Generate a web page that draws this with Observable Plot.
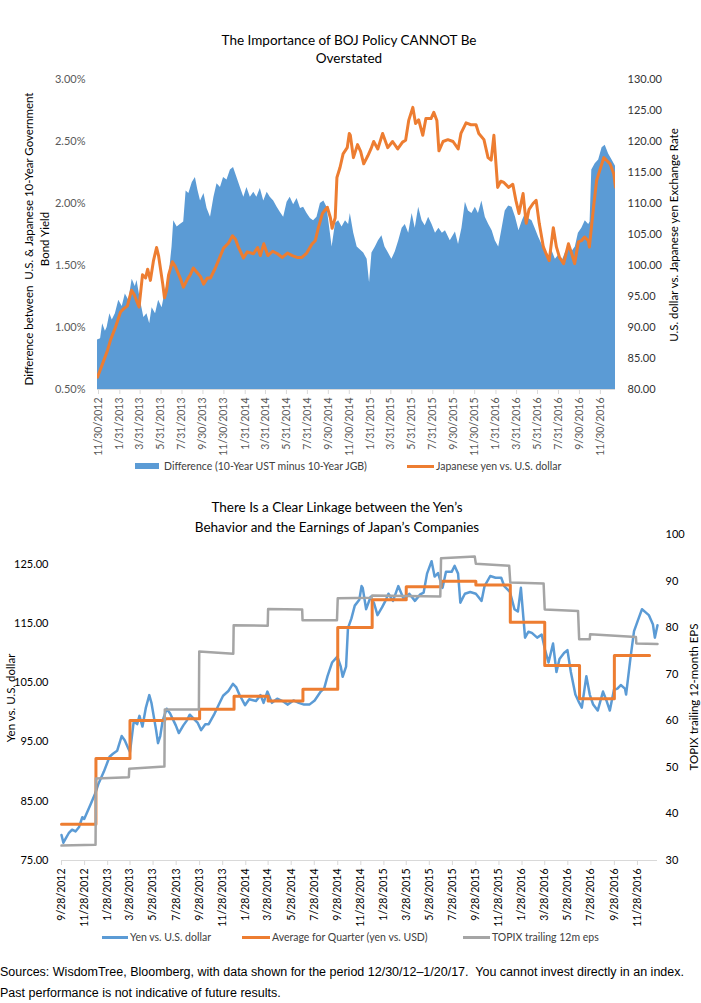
<!DOCTYPE html>
<html>
<head>
<meta charset="utf-8">
<script src="https://cdn.jsdelivr.net/npm/d3@7"></script>
<script src="https://cdn.jsdelivr.net/npm/@observablehq/plot@0.6"></script>
<style>
  body { margin: 0; background: #fff; }
  #page { position: relative; width: 701px; height: 1003px; overflow: hidden; font-family: Lato, sans-serif; color: #000; }
  .ttl { position: absolute; text-align: center; font-size: 13.5px; }
  .rot { position: absolute; white-space: nowrap; transform: translate(-50%, -50%) rotate(-90deg); text-align: center; }
  .sw { position: absolute; }
  .lg { position: absolute; font-size: 10.5px; line-height: 14px; color: #404040; white-space: nowrap; }
  .src { position: absolute; left: 0; font-family: "Liberation Sans Narrow", "Arial Narrow", "Liberation Sans", sans-serif; font-size: 12.5px; line-height: 21px; color: #000; white-space: nowrap; }
</style>
</head>
<body>
<div id="page">
  <div class="ttl" style="left:0; top:31px; width:698px; line-height:18px;">The Importance of BOJ Policy CANNOT Be<br>Overstated</div>
  <div class="rot" style="left:37px; top:239px; font-size:11.5px; line-height:16px;">Difference between&nbsp; U.S. &amp; Japanese 10-Year Government<br>Bond Yield</div>
  <div class="rot" style="left:673px; top:235px; font-size:11.5px;">U.S. dollar vs. Japanese yen Exchange Rate</div>

  <div class="sw" style="left:135px; top:463px; width:24px; height:6px; background:#5B9BD5;"></div>
  <div class="lg" style="left:164px; top:459px;">Difference (10-Year UST minus 10-Year JGB)</div>
  <div class="sw" style="left:407px; top:464.5px; width:27px; height:3px; background:#ED7D31;"></div>
  <div class="lg" style="left:436px; top:459px;">Japanese yen vs. U.S. dollar</div>

  <div class="ttl" style="left:0; top:497px; width:674px; line-height:20px;">There Is a Clear Linkage between the Yen’s<br>Behavior and the Earnings of Japan’s Companies</div>
  <div class="rot" style="left:10px; top:698px; font-size:11.5px;">Yen vs. U.S. dollar</div>
  <div class="rot" style="left:693px; top:697px; font-size:11.5px;">TOPIX trailing 12-month EPS</div>

  <div class="sw" style="left:102px; top:935.5px; width:26px; height:3px; background:#5B9BD5;"></div>
  <div class="lg" style="left:130px; top:930px;">Yen vs. U.S. dollar</div>
  <div class="sw" style="left:242px; top:935.5px; width:28px; height:3px; background:#ED7D31;"></div>
  <div class="lg" style="left:272px; top:930px;">Average for Quarter (yen vs. USD)</div>
  <div class="sw" style="left:463px; top:935.5px; width:27px; height:3px; background:#A5A5A5;"></div>
  <div class="lg" style="left:492px; top:930px;">TOPIX trailing 12m eps</div>

  <div class="src" style="top:961.5px;">Sources: WisdomTree, Bloomberg, with data shown for the period 12/30/12–1/20/17.&nbsp; You cannot invest directly in an index.<br>Past performance is not indicative of future results.</div>
</div>

<script>
// 10-year UST minus 10-year JGB yield spread, in percentage points
const spread = [
  ["2012-11-27",0.90],["2012-12-06",0.91],["2012-12-12",1.03],["2012-12-20",0.97],["2012-12-25",1.00],
  ["2013-01-02",1.11],["2013-01-09",1.06],["2013-01-18",1.11],["2013-01-28",1.22],["2013-02-07",1.17],
  ["2013-02-16",1.27],["2013-02-26",1.22],["2013-03-08",1.39],["2013-03-17",1.33],["2013-03-22",1.38],
  ["2013-04-01",1.22],["2013-04-11",1.08],["2013-04-20",1.11],["2013-04-28",1.03],["2013-05-05",1.16],
  ["2013-05-15",1.11],["2013-05-24",1.22],["2013-06-03",1.16],["2013-06-13",1.30],["2013-06-22",1.38],
  ["2013-07-02",1.65],["2013-07-07",1.86],["2013-07-17",1.81],["2013-07-26",1.83],["2013-08-05",1.85],
  ["2013-08-12",2.10],["2013-08-20",2.08],["2013-08-30",2.17],["2013-09-08",2.21],["2013-09-15",2.11],
  ["2013-09-23",2.02],["2013-10-03",2.08],["2013-10-12",1.96],["2013-10-22",1.89],["2013-11-01",2.05],
  ["2013-11-10",2.16],["2013-11-20",2.13],["2013-11-29",2.21],["2013-12-09",2.19],["2013-12-19",2.27],
  ["2013-12-28",2.29],["2014-01-07",2.21],["2014-01-17",2.13],["2014-01-27",2.05],["2014-02-05",2.13],
  ["2014-02-15",2.05],["2014-02-25",2.09],["2014-03-06",2.05],["2014-03-16",2.12],["2014-03-26",2.02],
  ["2014-04-05",2.09],["2014-04-14",2.05],["2014-04-24",2.02],["2014-05-04",1.97],["2014-05-13",1.93],
  ["2014-05-23",1.89],["2014-06-02",2.01],["2014-06-11",2.05],["2014-06-21",1.99],["2014-07-01",2.04],
  ["2014-07-11",1.96],["2014-07-20",1.97],["2014-07-30",1.92],["2014-08-09",1.88],["2014-08-18",1.86],
  ["2014-08-28",1.89],["2014-09-07",2.00],["2014-09-17",2.02],["2014-09-26",1.97],["2014-10-06",1.76],
  ["2014-10-11",1.65],["2014-10-21",1.84],["2014-10-30",1.86],["2014-11-09",1.81],["2014-11-19",1.86],
  ["2014-11-28",1.83],["2014-12-03",1.92],["2014-12-13",1.76],["2014-12-23",1.65],["2015-01-11",1.60],
  ["2015-01-21",1.55],["2015-01-28",1.36],["2015-02-04",1.60],["2015-02-14",1.65],["2015-02-23",1.70],
  ["2015-03-05",1.74],["2015-03-14",1.65],["2015-03-24",1.60],["2015-04-03",1.55],["2015-04-13",1.61],
  ["2015-04-23",1.70],["2015-05-03",1.80],["2015-05-12",1.83],["2015-05-22",1.76],["2015-06-01",1.92],
  ["2015-06-10",1.80],["2015-06-20",1.97],["2015-06-30",1.86],["2015-07-09",1.82],["2015-07-19",1.89],
  ["2015-07-29",1.83],["2015-08-08",1.76],["2015-08-18",1.80],["2015-08-28",1.76],["2015-09-06",1.78],
  ["2015-09-20",1.70],["2015-10-05",1.77],["2015-10-14",1.67],["2015-10-24",1.80],["2015-11-03",2.01],
  ["2015-11-12",1.94],["2015-11-22",1.92],["2015-12-02",1.97],["2015-12-11",1.92],["2015-12-21",2.02],
  ["2015-12-31",1.89],["2016-01-10",1.83],["2016-01-20",1.78],["2016-01-29",1.70],["2016-02-08",1.65],
  ["2016-02-18",1.80],["2016-02-27",1.94],["2016-03-08",1.98],["2016-03-18",1.97],["2016-03-28",1.89],
  ["2016-04-07",1.78],["2016-04-17",1.86],["2016-04-26",1.92],["2016-05-05",1.88],["2016-05-15",1.86],
  ["2016-05-24",1.80],["2016-06-03",1.73],["2016-06-13",1.67],["2016-06-23",1.62],["2016-07-02",1.55],
  ["2016-07-12",1.62],["2016-07-22",1.55],["2016-07-31",1.58],["2016-08-10",1.53],["2016-08-20",1.60],
  ["2016-08-29",1.65],["2016-09-08",1.61],["2016-09-18",1.65],["2016-09-27",1.76],["2016-10-07",1.80],
  ["2016-10-17",1.86],["2016-10-27",1.83],["2016-10-31",1.85],["2016-11-05",2.27],["2016-11-15",2.32],
  ["2016-11-25",2.35],["2016-12-05",2.45],["2016-12-14",2.47],["2016-12-24",2.40],["2017-01-03",2.35],
  ["2017-01-13",2.30]
];

// USD/JPY exchange rate
const yenUsd = [
  ["2012-11-27",82.0],["2012-12-14",84.5],["2012-12-26",86.3],["2013-01-04",88.0],["2013-01-18",90.0],
  ["2013-02-02",92.5],["2013-02-11",93.0],["2013-02-22",93.5],["2013-03-06",96.0],["2013-03-14",95.3],
  ["2013-03-23",94.0],["2013-03-28",93.3],["2013-04-07",98.5],["2013-04-16",98.0],["2013-04-22",99.4],
  ["2013-04-30",97.6],["2013-05-09",100.8],["2013-05-18",102.9],["2013-05-24",101.5],["2013-06-05",97.0],
  ["2013-06-10",94.8],["2013-06-16",96.0],["2013-06-22",98.5],["2013-07-03",100.6],["2013-07-12",99.8],
  ["2013-07-27",97.8],["2013-08-04",96.5],["2013-08-16",97.8],["2013-08-25",98.6],["2013-09-02",99.6],
  ["2013-09-14",98.8],["2013-09-23",98.2],["2013-10-02",97.0],["2013-10-13",98.0],["2013-10-22",98.0],
  ["2013-11-05",99.6],["2013-11-20",101.6],["2013-11-29",102.8],["2013-12-13",103.6],["2013-12-25",104.8],
  ["2014-01-03",104.2],["2014-01-11",103.0],["2014-01-26",101.2],["2014-02-06",102.2],["2014-02-24",101.9],
  ["2014-03-08",102.9],["2014-03-16",101.6],["2014-03-26",103.5],["2014-04-07",101.6],["2014-04-21",102.3],
  ["2014-05-05",101.9],["2014-05-19",101.3],["2014-06-03",102.0],["2014-06-17",101.6],["2014-07-01",101.3],
  ["2014-07-15",101.3],["2014-07-29",102.0],["2014-08-14",103.5],["2014-08-23",104.0],["2014-09-01",106.1],
  ["2014-09-13",108.4],["2014-09-27",109.4],["2014-10-06",107.7],["2014-10-11",106.0],["2014-10-20",107.7],
  ["2014-10-25",114.2],["2014-11-03",115.8],["2014-11-12",118.0],["2014-11-24",119.0],["2014-11-30",121.3],
  ["2014-12-03",121.0],["2014-12-12",117.4],["2014-12-24",119.5],["2015-01-02",118.4],["2015-01-11",116.4],
  ["2015-01-23",117.7],["2015-02-01",118.8],["2015-02-09",120.0],["2015-02-21",118.8],["2015-03-07",121.3],
  ["2015-03-22",119.0],["2015-04-05",120.0],["2015-04-20",118.8],["2015-05-04",119.9],["2015-05-13",120.2],
  ["2015-05-22",123.4],["2015-06-03",125.5],["2015-06-11",122.9],["2015-06-20",123.5],["2015-07-02",121.0],
  ["2015-07-11",123.7],["2015-07-26",123.7],["2015-08-03",124.7],["2015-08-12",123.4],["2015-08-18",118.5],
  ["2015-08-30",120.0],["2015-09-13",120.3],["2015-09-28",120.0],["2015-10-13",118.8],["2015-10-21",121.3],
  ["2015-11-05",123.0],["2015-11-19",122.7],["2015-12-04",122.7],["2015-12-12",121.3],["2015-12-27",120.3],
  ["2016-01-08",117.4],["2016-01-17",117.0],["2016-01-25",121.0],["2016-02-05",112.6],["2016-02-14",113.6],
  ["2016-02-23",113.4],["2016-03-08",112.6],["2016-03-20",113.1],["2016-03-29",110.5],["2016-04-07",108.4],
  ["2016-04-19",111.6],["2016-04-28",106.8],["2016-05-06",109.0],["2016-05-18",110.0],["2016-05-27",110.5],
  ["2016-06-05",106.8],["2016-06-17",103.0],["2016-06-25",101.9],["2016-07-04",100.8],["2016-07-16",106.1],
  ["2016-07-25",103.0],["2016-08-03",101.3],["2016-08-15",100.3],["2016-08-29",103.5],["2016-09-07",102.0],
  ["2016-09-16",100.3],["2016-09-27",103.8],["2016-10-06",104.0],["2016-10-15",104.6],["2016-10-26",104.0],
  ["2016-10-29",103.0],["2016-11-10",109.4],["2016-11-19",113.7],["2016-11-28",115.3],["2016-12-10",117.4],
  ["2016-12-19",116.9],["2016-12-28",116.4],["2017-01-08",114.8],["2017-01-13",112.6]
];
// extra USD/JPY days covered only by the lower panel
const yenUsdEarly = [
  ["2012-09-28",79.3],["2012-10-03",78.0],["2012-10-10",78.8],["2012-10-17",79.6],["2012-10-26",80.2],
  ["2012-11-04",79.9],["2012-11-13",80.6],["2012-11-22",82.3]
];
const yenUsdLate = [["2017-01-20",114.7]];

// quarterly average of USD/JPY, each held from its start date to the next
const quarterStart = ["2012-09-28","2012-12-28","2013-03-28","2013-06-28","2013-09-28","2013-12-28",
  "2014-03-28","2014-06-28","2014-09-28","2014-12-28","2015-03-28","2015-06-28","2015-09-28",
  "2015-12-28","2016-03-28","2016-06-28","2016-09-28","2016-12-30"];
const quarterAvg = [81.1, 92.2, 98.6, 98.9, 100.5, 102.7, 101.9, 103.9, 114.3, 119.0, 121.2, 122.1,
  121.5, 115.2, 107.9, 102.3, 109.6, 109.6];

// TOPIX trailing 12-month EPS
const topixEps = [
  ["2012-09-28",33.2],["2012-12-27",33.4],["2012-12-28",47.6],["2013-03-25",47.9],["2013-03-26",49.7],
  ["2013-06-27",50.2],["2013-06-28",62.4],["2013-09-26",62.4],["2013-09-27",74.9],["2013-12-26",74.4],
  ["2013-12-27",80.5],["2014-03-27",80.4],["2014-03-28",84.0],["2014-06-26",83.9],["2014-06-27",81.6],
  ["2014-09-26",81.6],["2014-09-28",86.3],["2014-12-26",86.4],["2014-12-28",86.9],["2015-06-26",86.7],
  ["2015-06-28",94.9],["2015-09-25",95.3],["2015-09-28",93.7],["2015-12-25",93.3],["2015-12-28",89.7],
  ["2016-03-25",89.5],["2016-03-28",83.9],["2016-06-24",83.6],["2016-06-27",77.5],["2016-07-25",77.5],
  ["2016-07-26",78.6],["2016-11-24",78.0],["2016-11-25",76.6],["2017-01-20",76.5]
];

// axis tick labels
const topDateTicks = ["11/30/2012","1/31/2013","3/31/2013","5/31/2013","7/31/2013","9/30/2013","11/30/2013",
  "1/31/2014","3/31/2014","5/31/2014","7/31/2014","9/30/2014","11/30/2014","1/31/2015","3/31/2015",
  "5/31/2015","7/31/2015","9/30/2015","11/30/2015","1/31/2016","3/31/2016","5/31/2016","7/31/2016",
  "9/30/2016","11/30/2016"];
const bottomDateTicks = ["9/28/2012","11/28/2012","1/28/2013","3/28/2013","5/28/2013","7/28/2013","9/28/2013",
  "11/28/2013","1/28/2014","3/28/2014","5/28/2014","7/28/2014","9/28/2014","11/28/2014","1/28/2015",
  "3/28/2015","5/28/2015","7/28/2015","9/28/2015","11/28/2015","1/28/2016","3/28/2016","5/28/2016",
  "7/28/2016","9/28/2016","11/28/2016"];
const spreadTicks = [0.5, 1.0, 1.5, 2.0, 2.5, 3.0];
const fxTicks = [80, 85, 90, 95, 100, 105, 110, 115, 120, 125, 130];
const yenTicks = [75, 85, 95, 105, 115, 125];
const epsTicks = [30, 40, 50, 60, 70, 80, 90, 100];

const day = d3.utcParse("%Y-%m-%d");
const mdy = d3.utcParse("%m/%d/%Y");
const fmtMDY = d3.utcFormat("%-m/%-d/%Y");
const rows = arr => arr.map(([d, v]) => ({date: day(d), value: v}));

const page = document.getElementById("page");
function layer(options, top) {
  const svg = Plot.plot({
    ...options,
    style: `position:absolute;left:0;top:${top}px;background:transparent;overflow:visible;max-width:none;font-family:Lato,sans-serif;`
  });
  page.appendChild(svg);
}

// ---- upper panel ----
const topFrame = {width: 701, height: 410, marginLeft: 97, marginRight: 86, marginTop: 19, marginBottom: 81};
const topDomain = [day("2012-11-27"), day("2017-01-13")];

layer({
  ...topFrame,
  x: {type: "utc", domain: topDomain},
  y: {domain: [0.5, 3.0]},
  marks: [
    Plot.areaY(rows(spread), {x: "date", y1: 0.5, y2: "value", fill: "#5B9BD5", curve: "linear"}),
    Plot.ruleY([0.5], {stroke: "#d9d9d9", strokeWidth: 1.2}),
    Plot.axisX({ticks: topDateTicks.map(mdy), tickFormat: fmtMDY, tickRotate: -90, tickSize: 5, tickPadding: 3,
      stroke: "#d9d9d9", fill: "#595959", fontSize: 10.5, label: null}),
    Plot.axisY({ticks: spreadTicks, tickFormat: d => d.toFixed(2) + "%", tickSize: 0, tickPadding: 12,
      fill: "#595959", fontSize: 11, label: null})
  ]
}, 60);

layer({
  ...topFrame,
  x: {type: "utc", domain: topDomain, axis: null},
  y: {domain: [80, 130]},
  marks: [
    Plot.lineY(rows(yenUsd), {x: "date", y: "value", stroke: "#ED7D31", strokeWidth: 3, clip: true}),
    Plot.axisY({anchor: "right", ticks: fxTicks, tickFormat: d => d.toFixed(2), tickSize: 0, tickPadding: 12,
      fill: "#333", fontSize: 11, label: null})
  ]
}, 60);

// ---- lower panel ----
const botFrame = {width: 701, height: 420, marginLeft: 61, marginRight: 44, marginTop: 14, marginBottom: 80};
const botDomain = [day("2012-09-28"), day("2017-01-20")];
const quarterRows = quarterStart.map((d, i) => ({date: day(d), value: quarterAvg[i]}));

layer({
  ...botFrame,
  x: {type: "utc", domain: botDomain},
  y: {domain: [75, 130]},
  marks: [
    Plot.ruleY([75], {stroke: "#d9d9d9", strokeWidth: 1.2}),
    Plot.lineY(rows([...yenUsdEarly, ...yenUsd, ...yenUsdLate]), {x: "date", y: "value", stroke: "#5B9BD5", strokeWidth: 2.5}),
    Plot.lineY(quarterRows, {x: "date", y: "value", stroke: "#ED7D31", strokeWidth: 3, curve: "step-after"}),
    Plot.axisX({ticks: bottomDateTicks.map(mdy), tickFormat: fmtMDY, tickRotate: -90, tickSize: 5, tickPadding: 3,
      stroke: "#d9d9d9", fill: "#000", fontSize: 10.5, label: null}),
    Plot.axisY({ticks: yenTicks, tickFormat: d => d.toFixed(2), tickSize: 0, tickPadding: 13,
      fill: "#000", fontSize: 11, label: null})
  ]
}, 520);

layer({
  ...botFrame,
  x: {type: "utc", domain: botDomain, axis: null},
  y: {domain: [30, 100]},
  marks: [
    Plot.lineY(rows(topixEps), {x: "date", y: "value", stroke: "#A5A5A5", strokeWidth: 2.5}),
    Plot.axisY({anchor: "right", ticks: epsTicks, tickFormat: d => String(d), tickSize: 0, tickPadding: 8,
      fill: "#000", fontSize: 11, label: null})
  ]
}, 520);
</script>
</body>
</html>
